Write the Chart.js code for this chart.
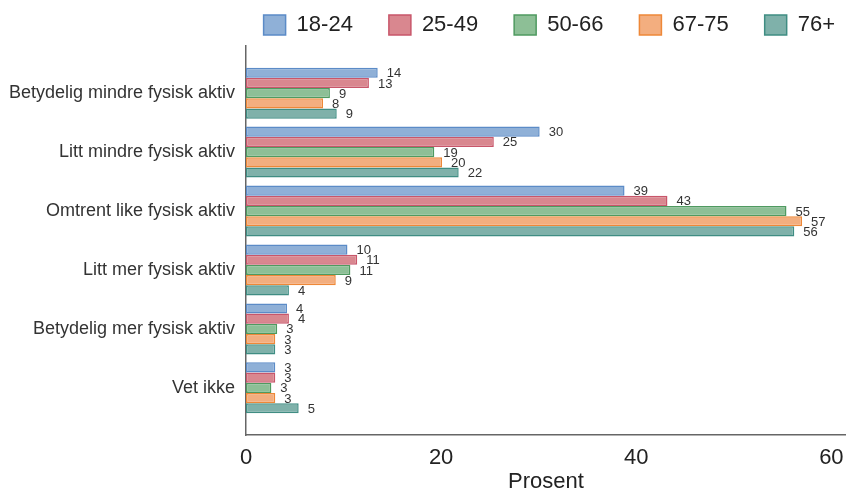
<!DOCTYPE html>
<html>
<head>
<meta charset="utf-8">
<script src="https://cdn.jsdelivr.net/npm/chart.js@4.4.1/dist/chart.umd.min.js"></script>
<style>
    html, body { margin: 0; padding: 0; background: #fff; }
    #wrap { width: 846px; height: 493px; }
</style>
</head>
<body>
<div id="wrap"><canvas id="chart" width="846" height="493"></canvas></div>
<script>
// Categories and series (percent)
const categories = [
    'Betydelig mindre fysisk aktiv',
    'Litt mindre fysisk aktiv',
    'Omtrent like fysisk aktiv',
    'Litt mer fysisk aktiv',
    'Betydelig mer fysisk aktiv',
    'Vet ikke'
];
const ageGroups = ['18-24', '25-49', '50-66', '67-75', '76+'];
const age18to24 = [13.5, 30.1, 38.8, 10.4, 4.2, 3.0];
const age25to49 = [12.6, 25.4, 43.2, 11.4, 4.4, 3.0];
const age50to66 = [8.6, 19.3, 55.4, 10.7, 3.2, 2.6];
const age67to75 = [7.9, 20.1, 57.0, 9.2, 3.0, 3.0];
const age76plus = [9.3, 21.8, 56.2, 4.4, 3.0, 5.4];
const xTicks = [0, 20, 40, 60];

const fills = ['#8fb0d7', '#d9878f', '#8dbf96', '#f3ae7f', '#7fb1aa'];
const borders = ['#5b8bc7', '#c8566a', '#4f9a60', '#ee8838', '#3f8d83'];
const series = [age18to24, age25to49, age50to66, age67to75, age76plus];

const FONT = 'Liberation Sans, Arial, sans-serif';

// Value labels next to each bar end
const valueLabels = {
    id: 'valueLabels',
    afterDatasetsDraw(chart) {
        const ctx = chart.ctx;
        ctx.save();
        ctx.font = '13px ' + FONT;
        ctx.fillStyle = '#333';
        ctx.textAlign = 'left';
        ctx.textBaseline = 'middle';
        chart.data.datasets.forEach((ds, i) => {
            chart.getDatasetMeta(i).data.forEach((bar, j) => {
                ctx.fillText(Math.round(ds.data[j].x), bar.x + 9, bar.y + 1);
            });
        });
        ctx.restore();
    }
};

new Chart(document.getElementById('chart'), {
    type: 'bar',
    data: {
        datasets: ageGroups.map((name, k) => ({
            label: name,
            data: series[k].map((v, i) => ({ x: v, y: i })),
            backgroundColor: fills[k],
            borderColor: borders[k],
            borderWidth: 1.5,
            borderSkipped: false,
            categoryPercentage: 0.866,
            barPercentage: 1
        }))
    },
    options: {
        indexAxis: 'y',
        responsive: false,
        animation: false,
        layout: { padding: { top: -22, right: -25, left: 0, bottom: 0 } },
        plugins: {
            tooltip: { enabled: false },
            legend: {
                position: 'top',
                align: 'end',
                labels: {
                    boxWidth: 22,
                    boxHeight: 20,
                    padding: 36,
                    color: '#222',
                    font: { family: FONT, size: 22 }
                }
            }
        },
        scales: {
            x: {
                type: 'linear',
                min: 0,
                max: 61.5,
                grid: { display: false, drawTicks: false },
                border: { display: true, color: '#666', width: 1.5 },
                afterBuildTicks: (scale) => { scale.ticks = xTicks.map(v => ({ value: v })); },
                afterFit: (scale) => {
                    scale.height = 58;
                    scale.paddingLeft = 0;
                    scale.paddingRight = 0;
                },
                ticks: {
                    padding: 10,
                    color: '#222',
                    font: { family: FONT, size: 22 }
                },
                title: {
                    display: true,
                    text: 'Prosent',
                    color: '#222',
                    padding: 0,
                    font: { family: FONT, size: 22, lineHeight: 1 }
                }
            },
            y: {
                type: 'linear',
                reverse: true,
                offset: false,
                min: -0.8,
                max: 5.8,
                grid: { display: false, drawTicks: false, offset: false },
                border: { display: true, color: '#666', width: 1.5 },
                afterBuildTicks: (scale) => { scale.ticks = categories.map((c, i) => ({ value: i })); },
                afterFit: (scale) => { scale.width = 246; },
                ticks: {
                    padding: 11,
                    color: '#333',
                    font: { family: FONT, size: 18 },
                    callback: (v) => categories[v]
                }
            }
        }
    },
    plugins: [valueLabels]
});
</script>
</body>
</html>
